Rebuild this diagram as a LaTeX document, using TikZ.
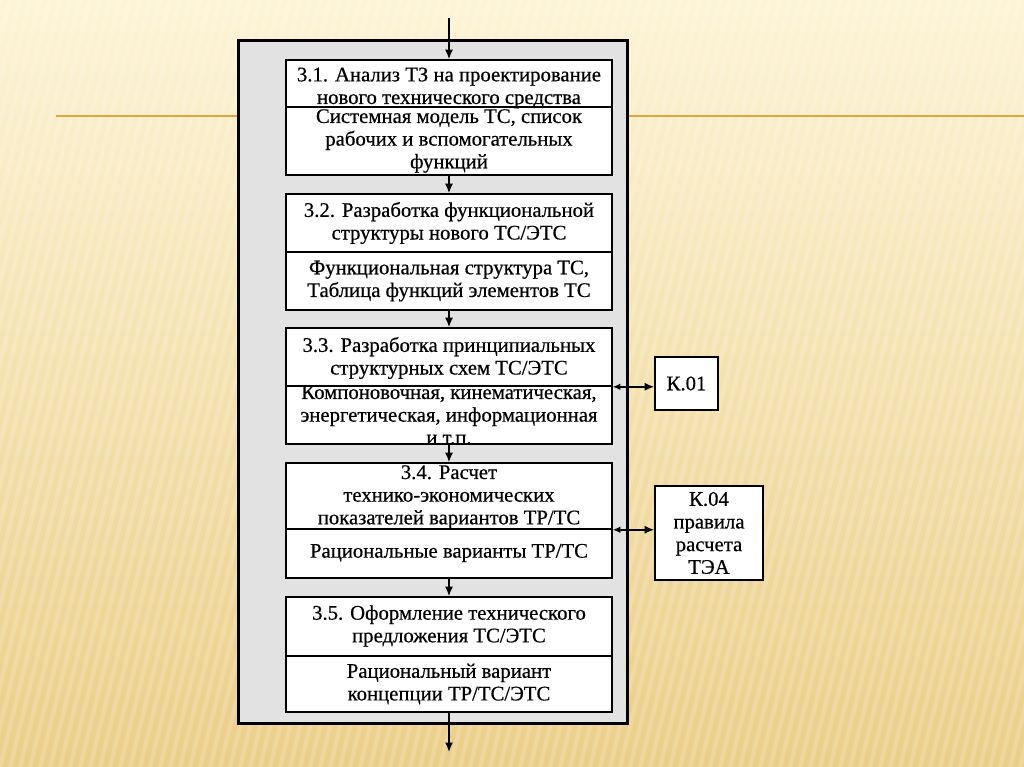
\documentclass[tikz,border=0pt]{standalone}
\usepackage{fontspec}
\setmainfont{Liberation Serif}
\usetikzlibrary{positioning}
\usetikzlibrary{arrows.meta}

\definecolor{bgtop}{HTML}{FDF4D6}
\definecolor{bgmid}{HTML}{F6E3AE}
\definecolor{bgbot}{HTML}{EBCE88}
\definecolor{rulecol}{HTML}{E9A33C}
\definecolor{panelcol}{HTML}{E2E2E2}

\begin{document}
\begin{tikzpicture}[x=0.02cm, y=-0.02cm,
  part/.style={draw, fill=white, line width=0.9pt, minimum width=6.52cm, inner sep=0pt},
  txt/.style={align=center, font=\fontsize{11.8}{12.9}\selectfont\addfontfeature{FakeBold=0.5}, inner sep=0pt},
  flow/.style={line width=0.9pt, -{Latex[length=1.9mm,width=1.6mm]}},
  link/.style={line width=0.9pt, {Latex[length=1.5mm,width=1.3mm]}-{Latex[length=1.9mm,width=1.6mm]}}]
  \useasboundingbox (0,0) rectangle (1024,767);

  % Background with stripes and rule
  \shade[top color=bgtop, middle color=bgmid, bottom color=bgbot] (0,0) rectangle (1024,767);
  \foreach \i in {-20,...,105}
    \draw[white, opacity=0.17, line width=0.09cm] (\i*10,767) -- (\i*10+190,0);
  \draw[rulecol, line width=1.2pt] (56,116) -- (1024,116);

  % Grey panel
  \node[draw, fill=panelcol, line width=1.7pt, minimum width=7.8cm, minimum height=13.68cm] (panel) at (433,382) {};

  % Stage boxes: title part and result part
  \node[part, minimum height=0.94cm] (t1) at (449,83.5) {};
  \node[part, minimum height=1.36cm] (r1) at (449,141) {};
  \node[part, minimum height=1.16cm] (t2) at (449,223) {};
  \node[part, minimum height=1.16cm] (r2) at (449,281) {};
  \node[part, minimum height=1.16cm] (t3) at (449,357) {};
  \node[part, minimum height=1.16cm] (r3) at (449,415) {};
  \node[part, minimum height=1.32cm] (t4) at (449,496) {};
  \node[part, minimum height=0.98cm] (r4) at (449,553.5) {};
  \node[part, minimum height=1.18cm] (t5) at (449,626.5) {};
  \node[part, minimum height=1.12cm] (r5) at (449,684) {};

  \node[txt] (t1text) at (449,88) {3.1. Анализ ТЗ на проектирование\\нового технического средства};
  \node[txt] (r1text) at (449,141) {Системная модель ТС, список\\рабочих и вспомогательных\\функций};
  \node[txt] (t2text) at (449,223) {3.2. Разработка функциональной\\структуры нового ТС/ЭТС};
  \node[txt] (r2text) at (449,281) {Функциональная структура ТС,\\Таблица функций элементов ТС};
  \node[txt] (t3text) at (449,358) {3.3. Разработка принципиальных\\структурных схем ТС/ЭТС};
  \node[txt] (r3text) at (449,415) {Компоновочная, кинематическая,\\энергетическая, информационная\\и т.п.};
  \node[txt] (t4text) at (449,497) {3.4. Расчет\\технико-экономических\\показателей вариантов ТР/ТС};
  \node[txt] (r4text) at (449,553) {Рациональные варианты ТР/ТС};
  \node[txt] (t5text) at (449,626) {3.5. Оформление технического\\предложения ТС/ЭТС};
  \node[txt] (r5text) at (449,684) {Рациональный вариант\\концепции ТР/ТС/ЭТС};

  % Side boxes
  \node[part, minimum width=1.26cm, minimum height=1.06cm] (k01) at (686.5,383.5) {};
  \node[txt] (k01text) at (k01) {К.01};
  \node[part, minimum width=2.16cm, minimum height=1.88cm] (k04) at (709,533) {};
  \node[txt] (k04text) at (k04) {К.04\\правила\\расчета\\ТЭА};

  % Flow arrows
  \coordinate (in) at (449,18);
  \coordinate (out) at (449,752);
  \draw[flow] (in) -- (t1);
  \draw[flow] (r1) -- (t2);
  \draw[flow] (r2) -- (t3);
  \draw[flow] (r3) -- (t4);
  \draw[flow] (r4) -- (t5);
  \draw[flow] (r5) -- (out);

  % Links to side boxes
  \draw[link] (t3.south east) -- (t3.south east -| k01.west);
  \draw[link] (t4.south east) -- (t4.south east -| k04.west);
\end{tikzpicture}
\end{document}
